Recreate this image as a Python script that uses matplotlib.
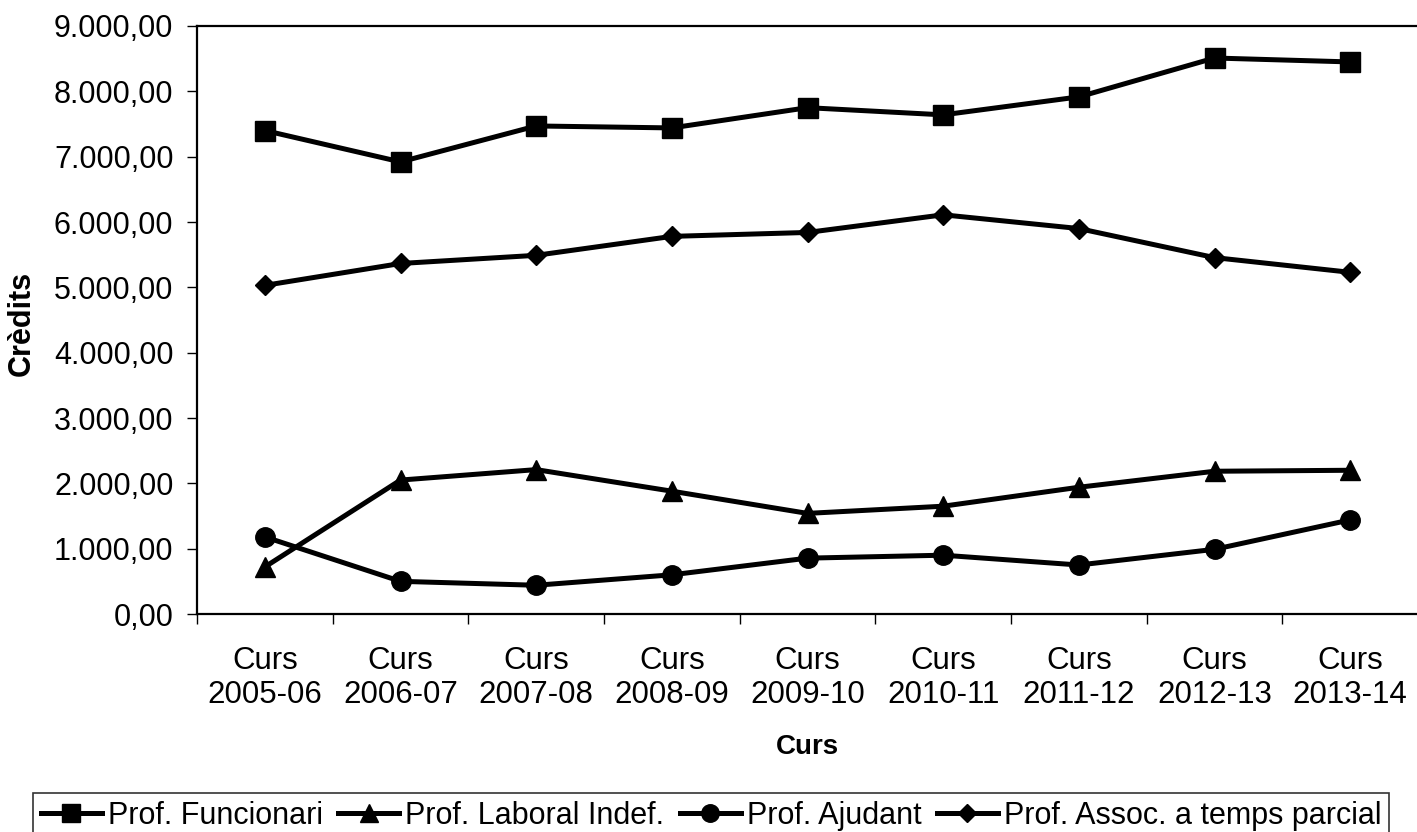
import matplotlib.pyplot as plt
from matplotlib.ticker import FuncFormatter, FixedLocator

plt.rcParams['font.family'] = ['Liberation Sans', 'DejaVu Sans']

cursos = ['2005-06', '2006-07', '2007-08', '2008-09', '2009-10',
          '2010-11', '2011-12', '2012-13', '2013-14']

funcionari = [7400, 6920, 7470, 7440, 7750, 7640, 7915, 8510, 8450]
laboral = [720, 2050, 2210, 1880, 1540, 1650, 1940, 2185, 2200]
ajudant = [1180, 500, 440, 600, 855, 900, 750, 990, 1440]
associat = [5030, 5365, 5490, 5780, 5840, 6110, 5900, 5455, 5230]

series = [
    ('Prof. Funcionari', funcionari, 's', 14),
    ('Prof. Laboral Indef.', laboral, '^', 14),
    ('Prof. Ajudant', ajudant, 'o', 14),
    ('Prof. Assoc. a temps parcial', associat, 'D', 10),
]

def fmt(v, pos):
    s = '{:,.2f}'.format(v)
    return s.replace(',', 'X').replace('.', ',').replace('X', '.')

fig = plt.figure(figsize=(14.17, 8.32), dpi=100)
ax = fig.add_axes([197 / 1417, 1 - 614 / 832, 1221 / 1417, 588 / 832])

x = list(range(len(cursos)))
for name, vals, mk, ms in series:
    ax.plot(x, vals, color='black', lw=3.6, marker=mk, markersize=ms,
            label=name, clip_on=False)

ax.set_xlim(-0.5, len(cursos) - 0.5)
ax.set_ylim(0, 9000)
ax.yaxis.set_major_locator(FixedLocator(range(0, 9001, 1000)))
ax.yaxis.set_major_formatter(FuncFormatter(fmt))
ax.set_xticks([i + 0.5 for i in range(-1, len(cursos))])
ax.set_xticklabels([])
ax.tick_params(axis='both', direction='out', length=7, width=1,
               labelsize=22, colors='black')
ax.tick_params(axis='y', pad=10)
for i, c in enumerate(cursos):
    ax.text(i, -0.055, 'Curs\n' + c, transform=ax.get_xaxis_transform(),
            ha='center', va='top', fontsize=22.5, linespacing=1.17)

for side in ['left', 'bottom', 'top']:
    ax.spines[side].set_linewidth(1.6)
ax.spines['right'].set_visible(False)

fig.text(22 / 1417, 1 - 323 / 832, 'Crèdits', rotation=90, ha='center',
         va='center', fontsize=22, fontweight='bold')
fig.text(807 / 1417, 1 - 747 / 832, 'Curs', ha='center', va='center',
         fontsize=20, fontweight='bold')

handles, labels = ax.get_legend_handles_labels()
leg = fig.legend(handles, labels, loc='upper left',
                 bbox_to_anchor=(33 / 1417, 1 - 793 / 832), ncol=4,
                 fontsize=22, frameon=True, fancybox=False,
                 edgecolor='black', handlelength=2.0, handletextpad=0.2,
                 columnspacing=0.5, borderpad=0.25, markerscale=0.9,
                 borderaxespad=0)
leg.get_frame().set_linewidth(1.2)

fig.savefig('out.png', dpi=100)
